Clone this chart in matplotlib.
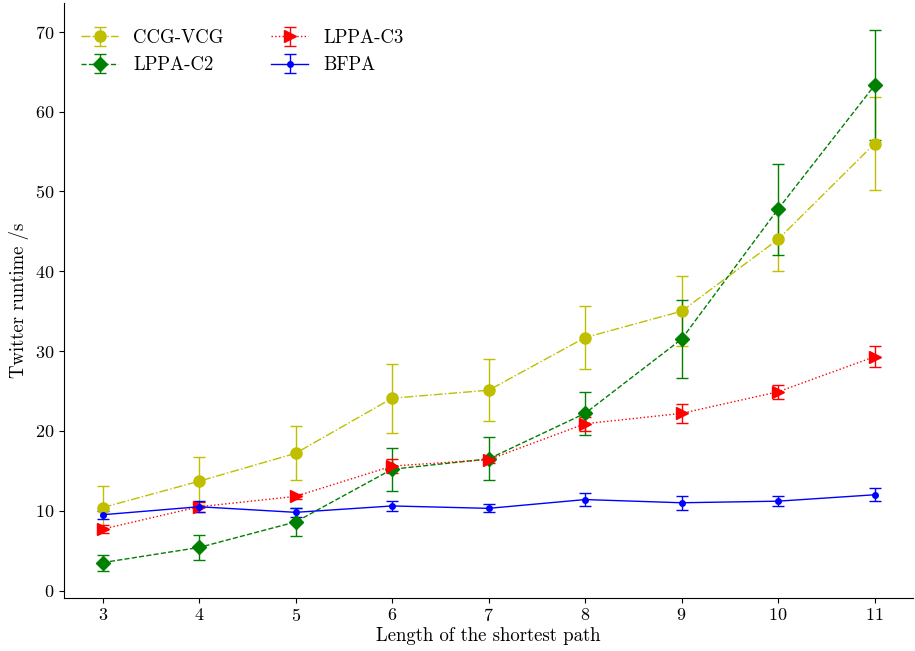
import numpy as np
import matplotlib
matplotlib.use("Agg")
import matplotlib.pyplot as plt

plotpar = {'axes.labelsize': 13.5,
           'font.size': 13.5,
           'legend.fontsize': 13.5,
           'xtick.labelsize': 13,
           'ytick.labelsize': 13,
           'font.family': 'serif',
           'font.serif': ['cmr10'],
           'mathtext.fontset': 'cm',
           'axes.formatter.use_mathtext': True}
plt.rcParams.update(plotpar)

path_len = [3, 4, 5, 6, 7, 8, 9, 10, 11]

ccg_vcg = [10.4, 13.7, 17.2, 24.1, 25.1, 31.7, 35.0, 44.0, 56.0]
ccg_vcg_err = [2.7, 3.0, 3.4, 4.3, 3.9, 3.9, 4.4, 3.9, 5.8]

lppa_c2 = [3.5, 5.4, 8.6, 15.2, 16.5, 22.2, 31.5, 47.8, 63.3]
lppa_c2_err = [1.0, 1.6, 1.8, 2.7, 2.7, 2.7, 4.9, 5.7, 6.9]

lppa_c3 = [7.7, 10.5, 11.8, 15.6, 16.4, 20.9, 22.2, 24.9, 29.3]
lppa_c3_err = [0.5, 0.6, 0.3, 0.9, 0.4, 0.9, 1.2, 0.9, 1.3]

bfpa = [9.5, 10.5, 9.8, 10.6, 10.3, 11.4, 11.0, 11.2, 12.0]
bfpa_err = [0.5, 0.7, 0.6, 0.6, 0.5, 0.8, 0.9, 0.6, 0.8]

fig, ax = plt.subplots(figsize=(9.15, 6.51), dpi=100)

ax.errorbar(path_len, ccg_vcg, yerr=ccg_vcg_err, fmt='o-.', color='y',
            ms=8, lw=1, capsize=4, label='CCG-VCG')
ax.errorbar(path_len, lppa_c2, yerr=lppa_c2_err, fmt='D--', color='g',
            ms=7, lw=1, capsize=4, label='LPPA-C2')
ax.errorbar(path_len, lppa_c3, yerr=lppa_c3_err, fmt='>:', color='r',
            ms=8, lw=1, capsize=4, label='LPPA-C3')
ax.errorbar(path_len, bfpa, yerr=bfpa_err, fmt='.-', color='b',
            ms=8, lw=1, capsize=4, label='BFPA')

ax.set_xticks(path_len)
ax.set_xlabel("Length of the shortest path", labelpad=2)
ax.set_ylabel("Twitter runtime /s")
ax.spines['top'].set_visible(False)
ax.spines['right'].set_visible(False)
ax.legend(loc='upper left', ncol=2, frameon=False, columnspacing=2.5,
          bbox_to_anchor=(0.0, 0.985))

fig.subplots_adjust(left=0.07, right=0.998, bottom=0.082, top=0.995)
fig.savefig("out.png")
